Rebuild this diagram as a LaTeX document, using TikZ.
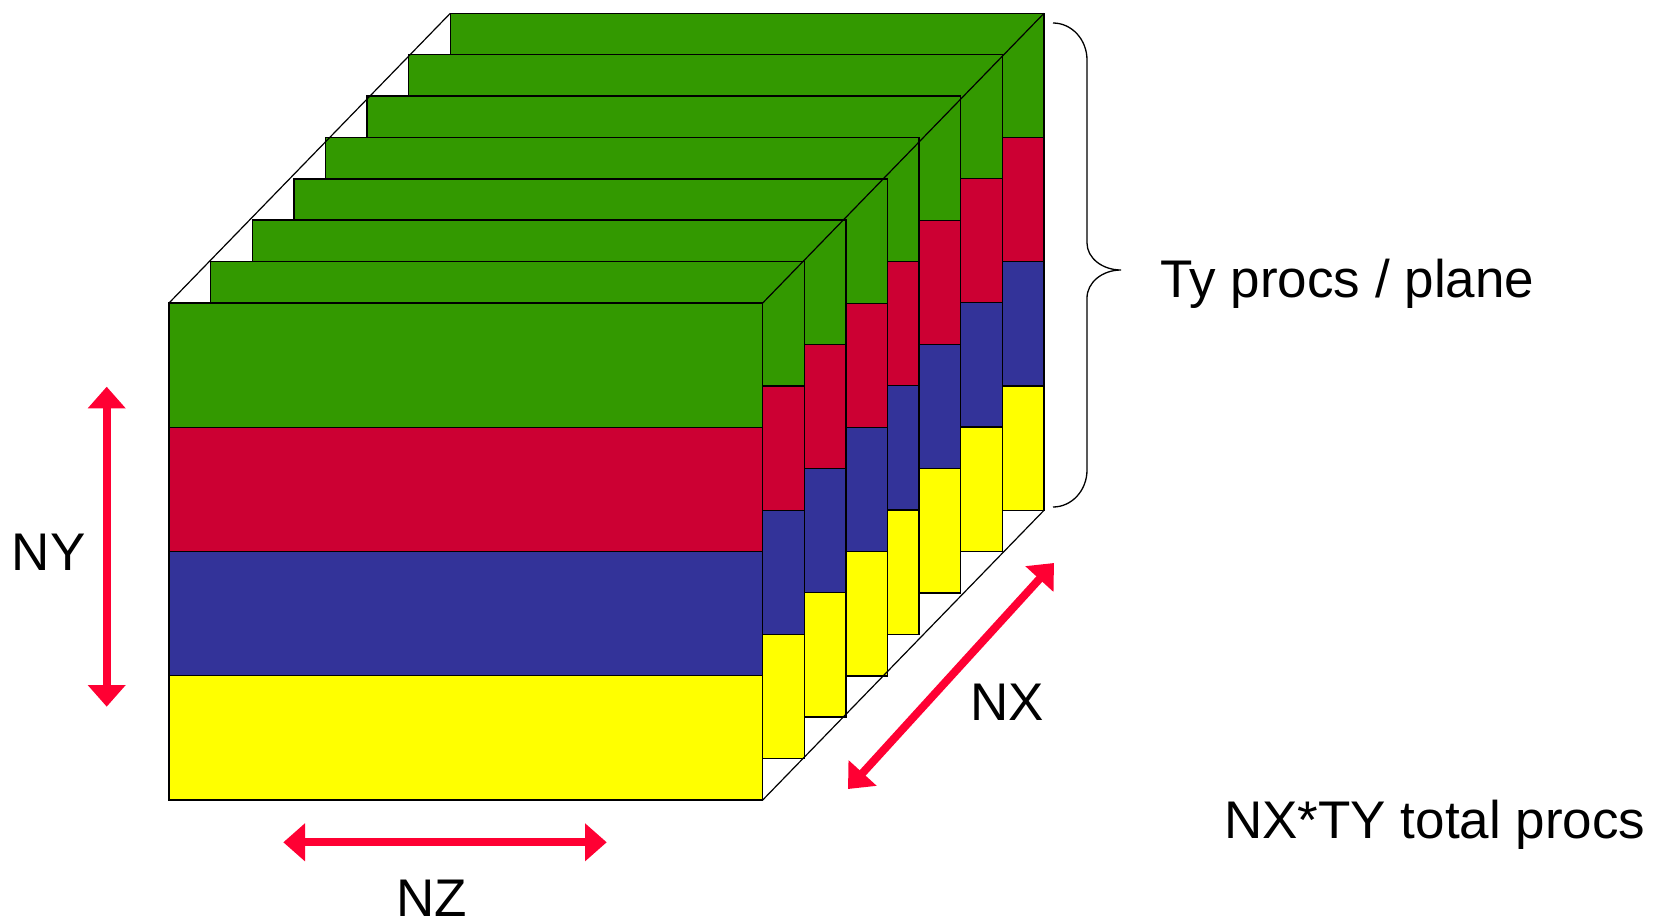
\documentclass[tikz,border=0pt]{standalone}
\usepackage{fontspec}
\setmainfont{Liberation Sans}
\usetikzlibrary{arrows.meta}
\definecolor{cgreen}{HTML}{339900}
\definecolor{cred}{HTML}{CC0033}
\definecolor{cblue}{HTML}{333399}
\definecolor{cyellow}{HTML}{FFFF00}
\definecolor{arrowred}{HTML}{FF0033}
\begin{document}
\begin{tikzpicture}[x=1pt,y=-1pt,
  band/.style={draw=black, line width=1.2pt},
  edge/.style={draw=black, line width=1.2pt},
  bracestyle/.style={draw=black, line width=1.3pt},
  dimarrow/.style={draw=arrowred, line width=8pt,
    {Triangle[length=21.7pt 0 0,width=36.7pt 0 0]}-{Triangle[length=21.7pt 0 0,width=36.7pt 0 0]}},
  lbl/.style={font=\fontsize{53}{60}\selectfont, inner sep=0pt}]
\useasboundingbox (0,0) rectangle (1655,921);
% slabs, back to front
\foreach \sx/\sy in {450.3/13.3, 408.7/54.3, 367/96, 325.3/137.3, 294/179, 252.3/220, 210.7/261.7, 169/303} {
  \foreach \c [count=\k from 0] in {cgreen,cred,cblue,cyellow} {
    \filldraw[band, fill=\c] (\sx, \sy+\k*124.25) rectangle ++(593.7,124.25);
  }
}
% hull edges
\coordinate (ftl) at (169,303);
\coordinate (btl) at (450.3,13.3);
\coordinate (ftr) at (762.7,303);
\coordinate (btr) at (1044,13.3);
\coordinate (fbr) at (762.7,800);
\coordinate (bbr) at (1044,510.3);
\draw[edge] (ftl) -- (btl);
\draw[edge] (ftr) -- (btr);
\draw[edge] (fbr) -- (bbr);
% brace
\draw[bracestyle] (1053,23) .. controls (1071.8,23) and (1087,39.6) .. (1087,60) -- (1087,243)
  .. controls (1087,257.9) and (1102.2,270) .. (1121,270)
  .. controls (1102.2,270) and (1087,282.5) .. (1087,298) -- (1087,470)
  .. controls (1087,490.4) and (1071.8,507) .. (1053,507);
% dimension arrows
\coordinate (nyT) at (106.7,386.7);
\coordinate (nyB) at (106.7,706.7);
\coordinate (nzL) at (283.3,842.3);
\coordinate (nzR) at (606.7,842.3);
\coordinate (nxA) at (1054,563);
\coordinate (nxB) at (848,789);
\draw[dimarrow] (nyT) -- (nyB);
\draw[dimarrow] (nzL) -- (nzR);
\draw[dimarrow] (nxA) -- (nxB);
% labels
\node[lbl, anchor=base west] (typlane) at (1160,297) {Ty procs / plane};
\node[lbl, anchor=base west] (total) at (1224,838) {NX*TY total procs};
\node[lbl, anchor=base] (ny) at (48.7,570) {NY};
\node[lbl, anchor=base] (nz) at (432,916) {NZ};
\node[lbl, anchor=base] (nx) at (1007,720) {NX};
\end{tikzpicture}
\end{document}
